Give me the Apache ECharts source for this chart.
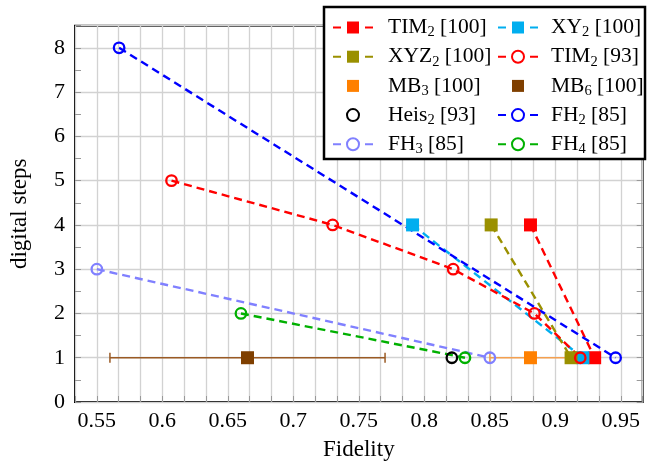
<!DOCTYPE html>
<html>
<head>
<meta charset="utf-8">
<script src="https://cdn.jsdelivr.net/npm/echarts@6/dist/echarts.min.js"></script>
<style>
html,body{margin:0;padding:0;background:#fff;}
#chart{width:652px;height:466px;}
</style>
</head>
<body>
<div id="chart"></div>
<script>
// ---- data ----
const tim2_100_x = [0.881, 0.930];  const tim2_100_y = [4, 1];
const xy2_100_x  = [0.791, 0.921];  const xy2_100_y  = [4, 1];
const xyz2_100_x = [0.851, 0.912];  const xyz2_100_y = [4, 1];
const tim2_93_x  = [0.607, 0.730, 0.822, 0.884, 0.919]; const tim2_93_y = [5, 4, 3, 2, 1];
const mb3_x = [0.881]; const mb3_y = [1]; const mb3_err = [0.850, 0.912];
const mb6_x = [0.665]; const mb6_y = [1]; const mb6_err = [0.560, 0.770];
const heis2_x = [0.821]; const heis2_y = [1];
const fh2_x = [0.567, 0.946]; const fh2_y = [8, 1];
const fh3_x = [0.550, 0.850]; const fh3_y = [3, 1];
const fh4_x = [0.660, 0.831]; const fh4_y = [2, 1];

const legendLeft  = ['TIM2 [100]', 'XYZ2 [100]', 'MB3 [100]', 'Heis2 [93]', 'FH3 [85]'];
const legendRight = ['XY2 [100]', 'TIM2 [93]', 'MB6 [100]', 'FH2 [85]', 'FH4 [85]'];

const FONT = 'Liberation Serif';
const zip = (xs, ys) => xs.map((x, i) => [x, ys[i]]);

function seriesDef(name, xs, ys, color, symbol, dashed) {
  const hollow = symbol === 'circle';
  return {
    name: name, type: 'line', data: zip(xs, ys),
    symbol: symbol, symbolSize: hollow ? 10.5 : 13, showSymbol: true,
    itemStyle: hollow ? {color: 'rgba(0,0,0,0)', borderColor: color, borderWidth: 2.3} : {color: color},
    lineStyle: dashed ? {color: color, width: 2.4, type: [8, 5]} : {color: color, width: 0, opacity: 0},
    emphasis: {disabled: true}, z: 3
  };
}
function errDef(lo, hi, y, color) {
  return {
    type: 'line', data: [[lo, y], [hi, y]], symbol: 'rect', symbolSize: [1.5, 10],
    itemStyle: {color: color}, lineStyle: {color: color, width: 1.5},
    emphasis: {disabled: true}, z: 2
  };
}

const series = [
  errDef(mb6_err[0], mb6_err[1], mb6_y[0], '#9a5a24'),
  errDef(mb3_err[0], mb3_err[1], mb3_y[0], '#f4a050'),
  seriesDef('TIM2 [100]', tim2_100_x, tim2_100_y, '#ff0000', 'rect', true),
  seriesDef('XY2 [100]', xy2_100_x, xy2_100_y, '#00aeef', 'rect', true),
  seriesDef('XYZ2 [100]', xyz2_100_x, xyz2_100_y, '#9a9000', 'rect', true),
  seriesDef('TIM2 [93]', tim2_93_x, tim2_93_y, '#ff0000', 'circle', true),
  seriesDef('MB3 [100]', mb3_x, mb3_y, '#ff8000', 'rect', false),
  seriesDef('MB6 [100]', mb6_x, mb6_y, '#7f3f00', 'rect', false),
  seriesDef('Heis2 [93]', heis2_x, heis2_y, '#000000', 'circle', false),
  seriesDef('FH2 [85]', fh2_x, fh2_y, '#0000ff', 'circle', true),
  seriesDef('FH3 [85]', fh3_x, fh3_y, '#8080ff', 'circle', true),
  seriesDef('FH4 [85]', fh4_x, fh4_y, '#00b000', 'circle', true)
];

function legendFmt(name) {
  const m = name.match(/^([A-Za-z]+)(\d)\s(\[\d+\])$/);
  return '{n|' + m[1] + '}{s|' + m[2] + '}{n| ' + m[3] + '}';
}
const rich = {
  n: {fontFamily: FONT, fontSize: 21.5, lineHeight: 24, color: '#000'},
  s: {fontFamily: FONT, fontSize: 14.5, lineHeight: 14, padding: [10, 0, 0, 0], color: '#000'}
};
function legendDef(data, left, pad) {
  return {
    data: data, orient: 'vertical', left: left, top: 15, padding: 0,
    itemWidth: 40, itemHeight: 15, itemGap: 4.2, selectedMode: false, z: 10,
    lineStyle: {type: [8, 24]},
    formatter: legendFmt,
    textStyle: {rich: rich, padding: [0, 0, 0, pad]}
  };
}

const chart = echarts.init(document.getElementById('chart'), null, {renderer: 'canvas'});
chart.setOption({
  animation: false,
  backgroundColor: '#fff',
  grid: {left: 70.7, right: 9.3, top: 25.7, bottom: 62.7, show: true, borderColor: '#000', borderWidth: 2, containLabel: false},
  xAxis: {
    type: 'value', min: 32 / 60, max: 58 / 60, interval: 1 / 60,
    name: 'Fidelity', nameLocation: 'middle', nameGap: 36,
    nameTextStyle: {fontFamily: FONT, fontSize: 23, color: '#000'},
    axisLine: {show: false},
    axisTick: {show: true, inside: true, length: 6, lineStyle: {color: '#999', width: 1}},
    axisLabel: {
      interval: 0, margin: 8, fontFamily: FONT, fontSize: 22, color: '#000',
      showMinLabel: true, showMaxLabel: true,
      formatter: function (v) {
        const k = Math.round(v * 60);
        if (k % 3 !== 0) return '';
        return String(+(k / 60).toFixed(2));
      }
    },
    splitLine: {show: true, lineStyle: {color: '#d2d2d2', width: 1.3}}
  },
  yAxis: [{
    type: 'value', min: 0, max: 8.5, interval: 1,
    name: 'digital steps', nameLocation: 'middle', nameGap: 44,
    nameTextStyle: {fontFamily: FONT, fontSize: 23, color: '#000'},
    axisLine: {show: false},
    axisTick: {show: true, inside: true, length: 6, lineStyle: {color: '#999', width: 1}},
    minorTick: {show: true, splitNumber: 2, length: 6, lineStyle: {color: '#999', width: 1}},
    axisLabel: {margin: 10, fontFamily: FONT, fontSize: 22, color: '#000', showMaxLabel: false},
    splitLine: {show: true, lineStyle: {color: '#d2d2d2', width: 1.3}}
  }, {
    type: 'value', min: 0, max: 8.5, interval: 1, position: 'right',
    axisLine: {show: false},
    axisTick: {show: true, inside: true, length: 6, lineStyle: {color: '#999', width: 1}},
    minorTick: {show: true, splitNumber: 2, length: 6, lineStyle: {color: '#999', width: 1}},
    axisLabel: {show: false}, splitLine: {show: false}
  }],
  legend: [legendDef(legendLeft, 332, 10), legendDef(legendRight, 497, 8)],
  graphic: {elements: [{
    type: 'rect', z: 5, shape: {x: 324, y: 7, width: 321, height: 152},
    style: {fill: '#fff', stroke: '#000', lineWidth: 2.5}
  }]},
  series: series
});
</script>
</body>
</html>
